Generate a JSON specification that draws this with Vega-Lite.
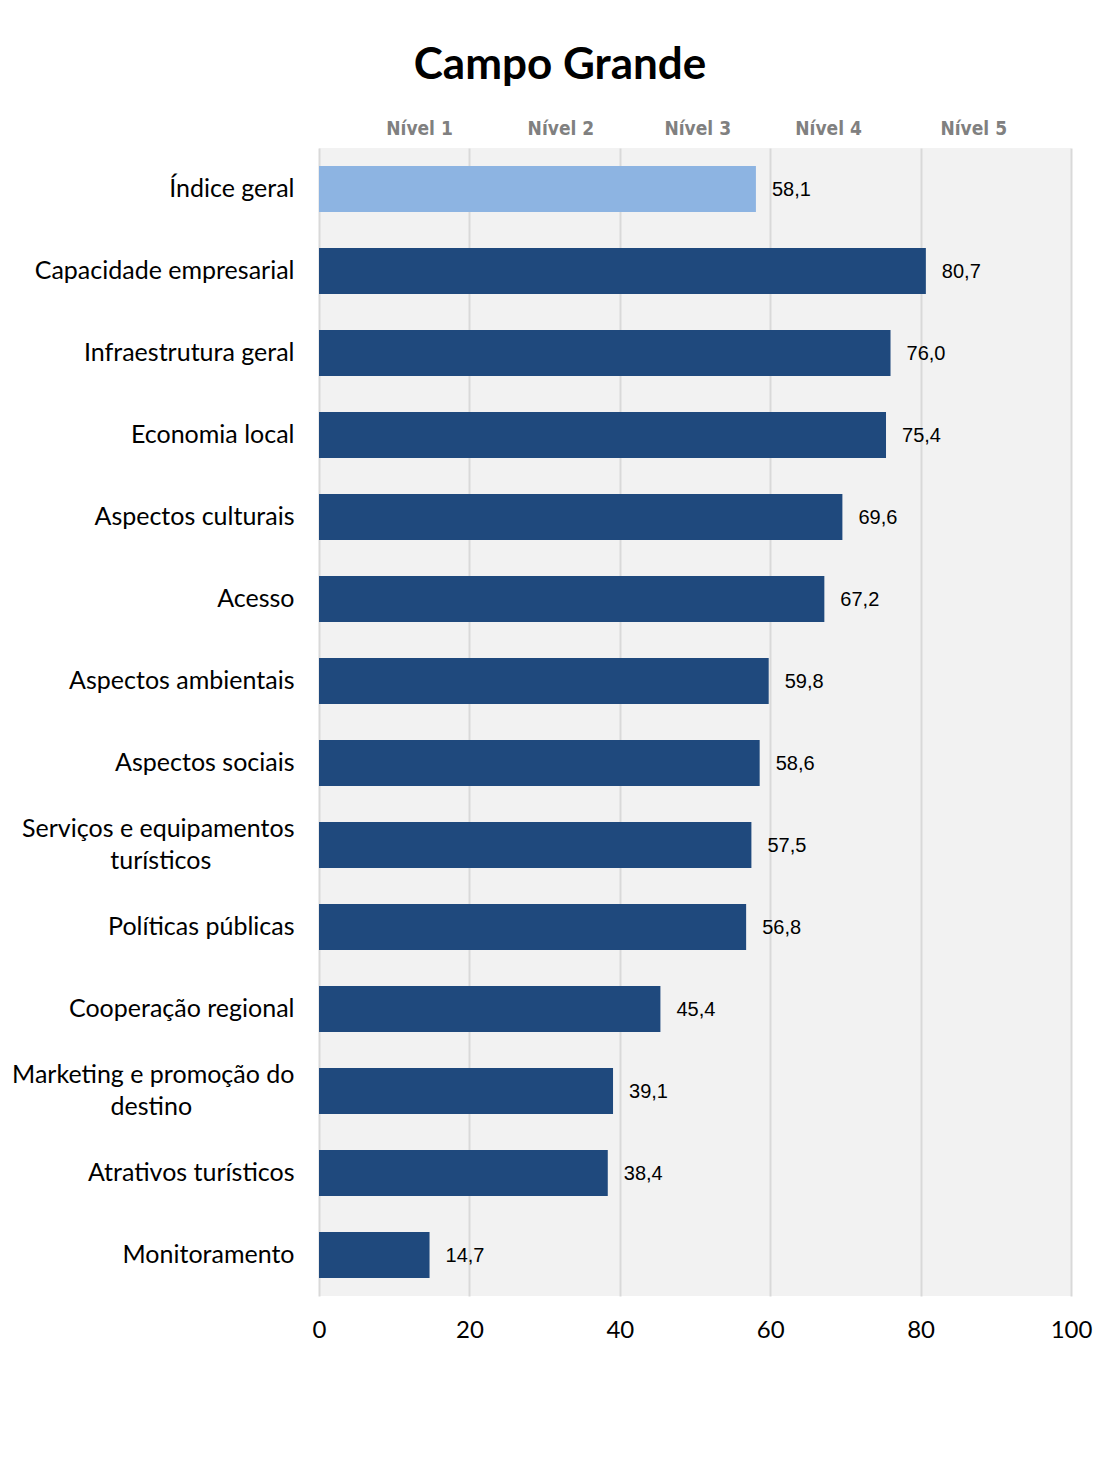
{
  "$schema": "https://vega.github.io/schema/vega-lite/v6.json",
  "width": 752,
  "height": 1148,
  "autosize": {"type": "none"},
  "padding": {"left": 319, "top": 148, "right": 29, "bottom": 171},
  "background": "#ffffff",
  "config": {
    "locale": {"number": {"decimal": ",", "thousands": ".", "grouping": [3], "currency": ["R$", ""]}},
    "view": {"fill": "#F2F2F2", "stroke": null}
  },
  "title": {
    "text": "Campo Grande",
    "font": "Lato",
    "fontSize": 44,
    "fontWeight": "bold",
    "color": "#000000",
    "anchor": "middle",
    "frame": "group",
    "dx": -135,
    "offset": 31
  },
  "datasets": {
    "dims": [
      {"dimensao": "Índice geral", "valor": 58.1, "tipo": "geral"},
      {"dimensao": "Capacidade empresarial", "valor": 80.7, "tipo": "dimensão"},
      {"dimensao": "Infraestrutura geral", "valor": 76.0, "tipo": "dimensão"},
      {"dimensao": "Economia local", "valor": 75.4, "tipo": "dimensão"},
      {"dimensao": "Aspectos culturais", "valor": 69.6, "tipo": "dimensão"},
      {"dimensao": "Acesso", "valor": 67.2, "tipo": "dimensão"},
      {"dimensao": "Aspectos ambientais", "valor": 59.8, "tipo": "dimensão"},
      {"dimensao": "Aspectos sociais", "valor": 58.6, "tipo": "dimensão"},
      {"dimensao": "Serviços e equipamentos turísticos", "valor": 57.5, "tipo": "dimensão"},
      {"dimensao": "Políticas públicas", "valor": 56.8, "tipo": "dimensão"},
      {"dimensao": "Cooperação regional", "valor": 45.4, "tipo": "dimensão"},
      {"dimensao": "Marketing e promoção do destino", "valor": 39.1, "tipo": "dimensão"},
      {"dimensao": "Atrativos turísticos", "valor": 38.4, "tipo": "dimensão"},
      {"dimensao": "Monitoramento", "valor": 14.7, "tipo": "dimensão"}
    ],
    "niveis": [
      {"nivel": "Nível 1", "pos": 13.3},
      {"nivel": "Nível 2", "pos": 32.1},
      {"nivel": "Nível 3", "pos": 50.3},
      {"nivel": "Nível 4", "pos": 67.7},
      {"nivel": "Nível 5", "pos": 87.0}
    ]
  },
  "layer": [
    {
      "data": {"name": "dims"},
      "mark": {"type": "bar"},
      "encoding": {
        "y": {
          "field": "dimensao",
          "type": "nominal",
          "sort": null,
          "scale": {"paddingInner": 0.44, "paddingOuter": 0.22},
          "axis": {
            "title": null,
            "domain": false,
            "ticks": false,
            "labelFont": "Lato",
            "labelFontSize": 25,
            "labelColor": "#000000",
            "labelPadding": 25,
            "labelLimit": 400,
            "labelExpr": "datum.value == 'Serviços e equipamentos turísticos' ? ['Serviços e equipamentos', 'turísticos\u00a0\u00a0\u00a0\u00a0\u00a0\u00a0\u00a0\u00a0\u00a0\u00a0\u00a0\u00a0\u00a0\u200b'] : datum.value == 'Marketing e promoção do destino' ? ['Marketing e promoção do', 'destino\u00a0\u00a0\u00a0\u00a0\u00a0\u00a0\u00a0\u00a0\u00a0\u00a0\u00a0\u00a0\u00a0\u00a0\u00a0\u00a0\u200b'] : datum.value",
            "labelLineHeight": 32,
            "labelOffset": {
              "condition": {"test": "datum.value == 'Serviços e equipamentos turísticos' || datum.value == 'Marketing e promoção do destino'", "value": -16},
              "value": 0
            }
          }
        },
        "x": {
          "field": "valor",
          "type": "quantitative",
          "scale": {"domain": [0, 100], "nice": false, "zero": true},
          "axis": {
            "orient": "bottom",
            "title": null,
            "values": [0, 20, 40, 60, 80, 100],
            "domain": false,
            "ticks": false,
            "grid": true,
            "gridColor": "#D9D9D9",
            "gridWidth": 2,
            "labelFont": "Lato",
            "labelFontSize": 24,
            "labelColor": "#000000",
            "labelPadding": 22,
            "labelFlush": false
          }
        },
        "color": {
          "field": "tipo",
          "type": "nominal",
          "scale": {"domain": ["geral", "dimensão"], "range": ["#8DB4E2", "#1F497D"]},
          "legend": null
        }
      }
    },
    {
      "data": {"name": "dims"},
      "mark": {"type": "text", "align": "left", "baseline": "middle", "dx": 16, "dy": 1, "font": "Liberation Sans", "fontSize": 20, "color": "#000000"},
      "encoding": {
        "y": {"field": "dimensao", "type": "nominal", "sort": null},
        "x": {"field": "valor", "type": "quantitative", "axis": null},
        "text": {"field": "valor", "type": "quantitative", "format": ".1f"}
      }
    },
    {
      "data": {"name": "niveis"},
      "mark": {"type": "point", "opacity": 0},
      "encoding": {
        "x": {
          "field": "pos",
          "type": "quantitative",
          "scale": {"domain": [0, 100], "nice": false},
          "axis": {
            "orient": "top",
            "title": null,
            "values": [13.3, 32.1, 50.3, 67.7, 87.0],
            "labelExpr": "datum.value < 20 ? 'Nível 1' : datum.value < 40 ? 'Nível 2' : datum.value < 60 ? 'Nível 3' : datum.value < 80 ? 'Nível 4' : 'Nível 5'",
            "domain": false,
            "ticks": false,
            "grid": false,
            "labelFont": "DejaVu Sans Condensed",
            "labelFontWeight": "bold",
            "labelFontSize": 19,
            "labelColor": "#808080",
            "labelPadding": 10
          }
        }
      }
    }
  ],
  "resolve": {"axis": {"x": "independent"}}
}
